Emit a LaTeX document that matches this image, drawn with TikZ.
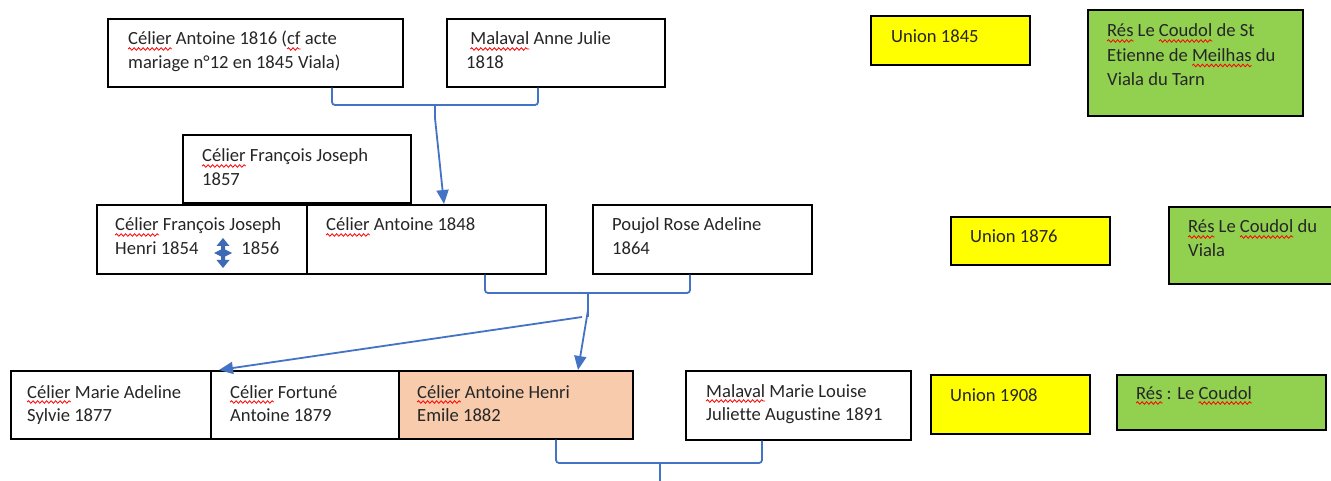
\documentclass[tikz,border=0pt]{standalone}
\usepackage{fontspec}
\setmainfont{Carlito}[Ligatures=CommonOff]
\usetikzlibrary{arrows.meta,decorations.pathmorphing}
\definecolor{lnblue}{HTML}{4472C4}
\definecolor{symblue}{HTML}{3E69B5}
\definecolor{peach}{HTML}{F8CBAD}
\definecolor{ylw}{HTML}{FFFF00}
\definecolor{grn}{HTML}{92D050}
\definecolor{txt}{HTML}{262626}
\newsavebox\sqbox
\newlength\sqlen
\newcommand\sq[1]{\sbox\sqbox{#1}\setlength\sqlen{\wd\sqbox}\leavevmode\rlap{\tikz[overlay,baseline=0pt,x=1pt,y=1pt]\draw[red,line width=0.8pt,decorate,decoration={snake,amplitude=1.3pt,segment length=4.5pt}] (0pt,-4pt) -- (\sqlen,-4pt);}\usebox\sqbox}
\newcommand\tl[2]{\vtop{\baselineskip=23.5pt\hbox{#1}\hbox{#2}}}
\newcommand\thl[3]{\vtop{\baselineskip=24.5pt\hbox{#1}\hbox{#2}\hbox{#3}}}
\tikzset{
  pbox/.style={draw=black, line width=1.6pt, anchor=north west, inner sep=0pt, fill=white},
  ptxt/.style={anchor=base west, inner sep=0pt, font=\fontsize{18.6}{23.5}\selectfont, text=txt},
  conn/.style={draw=lnblue, line width=1.8pt, rounded corners=3pt},
  arr/.style={draw=lnblue, line width=1.8pt, -{Triangle[length=14pt,width=12pt]}}
}
\begin{document}
\begin{tikzpicture}[x=1pt,y=-1pt]
\useasboundingbox[fill=white] (0,0) rectangle (1331,481);
% row 1
\node[pbox, minimum width=295pt, minimum height=68pt] (a) at (107,18) {};
\node[ptxt] (at) at (128,45) {\tl{\sq{Célier} Antoine 1816 (\sq{cf} acte}{mariage n°12 en 1845 Viala)}};
\node[pbox, minimum width=218pt, minimum height=68pt] (b) at (446,18) {};
\node[ptxt] (bt) at (466,45) {\tl{\ \sq{Malaval} Anne Julie}{1818}};
% row 2
\node[pbox, minimum width=228pt, minimum height=68pt] (c) at (182,134) {};
\node[ptxt] (ct) at (202,162) {\tl{\sq{Célier} François Joseph}{1857}};
\node[pbox, minimum width=210pt, minimum height=69pt] (d) at (96,204) {};
\node[ptxt] (dt) at (115,231) {\tl{\sq{Célier} François Joseph}{Henri 1854\hspace*{43pt}1856}};
\node[pbox, minimum width=239pt, minimum height=69pt] (e) at (306,204) {};
\node[ptxt] (et) at (326,231) {\sq{Célier} Antoine 1848};
\node[pbox, minimum width=219pt, minimum height=69pt] (f) at (592,204) {};
\node[ptxt] (ft) at (612,231) {\tl{Poujol Rose Adeline}{1864}};
% row 3
\node[pbox, minimum width=200pt, minimum height=68pt] (g) at (10,370) {};
\node[ptxt] (gt) at (27,398) {\tl{\sq{Célier} Marie Adeline}{Sylvie 1877}};
\node[pbox, minimum width=188pt, minimum height=68pt] (h) at (210,370) {};
\node[ptxt] (ht) at (230,398) {\tl{\sq{Célier} Fortuné}{Antoine 1879}};
\node[pbox, fill=peach, minimum width=234pt, minimum height=68pt] (i) at (398,370) {};
\node[ptxt] (it) at (417,398) {\tl{\sq{Célier} Antoine Henri}{Emile 1882}};
\node[pbox, minimum width=225pt, minimum height=69pt] (j) at (685,370) {};
\node[ptxt] (jt) at (706,397) {\tl{\sq{Malaval} Marie Louise}{Juliette Augustine 1891}};
% union boxes
\node[pbox, fill=ylw, minimum width=159pt, minimum height=49pt] (u1) at (870,15) {};
\node[ptxt] (u1t) at (891,43) {Union 1845};
\node[pbox, fill=ylw, minimum width=159pt, minimum height=48pt] (u2) at (950,216) {};
\node[ptxt] (u2t) at (970,243) {Union 1876};
\node[pbox, fill=ylw, minimum width=159pt, minimum height=59pt] (u3) at (930,374) {};
\node[ptxt] (u3t) at (950,401) {Union 1908};
% residence boxes
\node[pbox, fill=grn, minimum width=215pt, minimum height=106pt] (r1) at (1087,9) {};
\node[ptxt] (r1t) at (1107,37) {\thl{\sq{Rés} Le \sq{Coudol} de St}{Etienne de \sq{Meilhas} du}{Viala du Tarn}};
\node[pbox, fill=grn, minimum width=175pt, minimum height=77pt] (r2) at (1168,206) {};
\node[ptxt] (r2t) at (1188,233) {\tl{\sq{Rés} Le \sq{Coudol} du}{Viala}};
\node[pbox, fill=grn, minimum width=209pt, minimum height=55pt] (r3) at (1116,374) {};
\node[ptxt] (r3t) at (1136,399) {\sq{Rés} : Le \sq{Coudol}};
% symbol
\fill[symblue] (223,238) -- (216.5,246) -- (221,246) -- (221,249.5) -- (214,253) -- (221,256.5) -- (221,260)
  -- (216.5,260) -- (223,268) -- (229.5,260) -- (225,260) -- (225,256.5) -- (232,253) -- (225,249.5) -- (225,246) -- (229.5,246) -- cycle;
% connectors
\coordinate (m1) at (435,105);
\draw[conn] (a.south -| 332,0) |- (m1) -| (b.south -| 538,0);
\draw[arr] (m1) -- (435,118) -- (e.north -| 444,0);
\coordinate (m2) at (588,293);
\draw[conn] (e.south -| 485,0) |- (m2) -| (f.south -| 690,0);
\draw[conn] (m2) -- (588,317);
\draw[arr] (588,310) -- (i.north -| 578,0);
\draw[arr] (582,317) -- (g.north east -| 219,0);
\coordinate (m3) at (660,463);
\draw[conn] (i.south -| 556,0) |- (m3) -| (j.south -| 762,0);
\draw[conn] (m3) -- (660,481);
\end{tikzpicture}
\end{document}
